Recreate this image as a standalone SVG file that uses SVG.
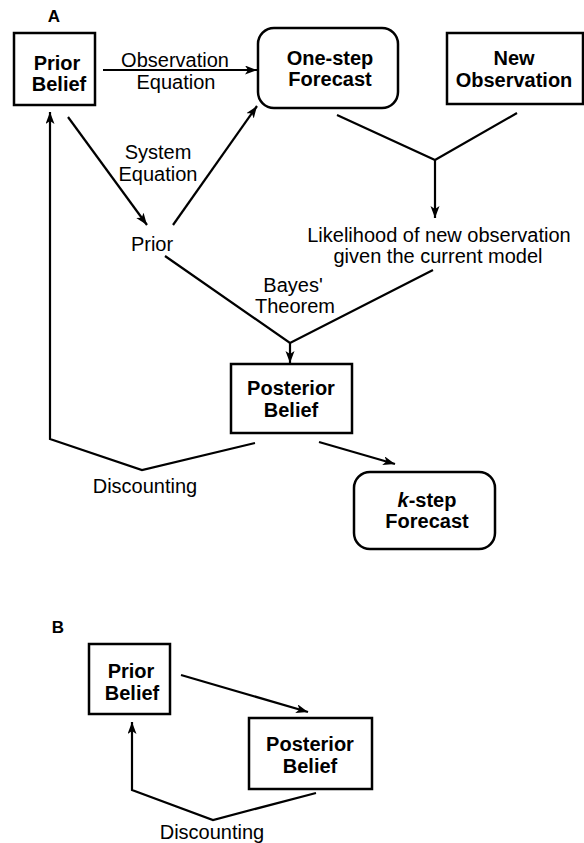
<svg xmlns="http://www.w3.org/2000/svg" width="584" height="843" viewBox="0 0 584 843">
<style>
.box{fill:#fff;stroke:#000;stroke-width:2.5}
.bt{font-family:"Liberation Sans",Arial,sans-serif;font-weight:bold;font-size:20px;text-anchor:middle;fill:#000}
.lt{font-family:"Liberation Sans",Arial,sans-serif;font-size:20px;text-anchor:middle;fill:#000}
.hd{font-family:"Liberation Sans",Arial,sans-serif;font-weight:bold;font-size:17px;text-anchor:middle;fill:#000}
.c{fill:none;stroke:#000;stroke-width:2.2;stroke-linejoin:miter}
</style>
<defs>
<marker id="ah" markerUnits="userSpaceOnUse" markerWidth="14" markerHeight="10" refX="12" refY="4.5" orient="auto">
<path d="M0,0 L12,4.5 L0,9 L3,4.5 z" fill="#000"/>
</marker>
</defs>
<rect width="584" height="843" fill="#fff"/>
<text class="hd" x="54" y="22">A</text>
<text class="hd" x="58" y="633">B</text>

<g id="connectors">
<line class="c" x1="103" y1="70" x2="257" y2="70" marker-end="url(#ah)"/>
<line class="c" x1="68" y1="117" x2="147" y2="225" marker-end="url(#ah)"/>
<line class="c" x1="173" y1="225" x2="257" y2="106" marker-end="url(#ah)"/>
<polyline class="c" points="337,115 435,160 517,113"/>
<line class="c" x1="435" y1="160" x2="435" y2="218" marker-end="url(#ah)"/>
<polyline class="c" points="165,256 290,343 433,270"/>
<line class="c" x1="290" y1="343" x2="290" y2="363" marker-end="url(#ah)"/>
<polyline class="c" points="255,443 142,470 50,439 50,112" marker-end="url(#ah)"/>
<line class="c" x1="319" y1="442" x2="395" y2="464" marker-end="url(#ah)"/>
<line class="c" x1="181" y1="675" x2="308" y2="712" marker-end="url(#ah)"/>
<polyline class="c" points="316,793 213,820 132,790 132,722" marker-end="url(#ah)"/>
</g>

<g id="labels">
<text class="lt" x="175" y="67">Observation</text>
<text class="lt" x="176" y="89">Equation</text>
<text class="lt" x="158" y="159">System</text>
<text class="lt" x="158" y="181">Equation</text>
<text class="lt" x="152" y="251">Prior</text>
<text class="lt" x="439" y="242">Likelihood of new observation</text>
<text class="lt" x="438" y="263">given the current model</text>
<text class="lt" x="293" y="292">Bayes'</text>
<text class="lt" x="295" y="313">Theorem</text>
<text class="lt" x="145" y="493">Discounting</text>
<text class="lt" x="212" y="839">Discounting</text>
</g>

<g id="priorA">
<rect class="box" x="14" y="33" width="81" height="72"/>
<text class="bt" x="57" y="70">Prior</text>
<text class="bt" x="59" y="91">Belief</text>
</g>
<g id="onestep">
<rect class="box" x="258" y="28" width="140" height="80" rx="16"/>
<text class="bt" x="330" y="65">One-step</text>
<text class="bt" x="330" y="86">Forecast</text>
</g>
<g id="newobs">
<rect class="box" x="447" y="33" width="136" height="71"/>
<text class="bt" x="514" y="65">New</text>
<text class="bt" x="514" y="87">Observation</text>
</g>
<g id="posteriorA">
<rect class="box" x="231" y="364" width="121" height="69"/>
<text class="bt" x="291" y="395">Posterior</text>
<text class="bt" x="291" y="417">Belief</text>
</g>
<g id="kstep">
<rect class="box" x="354" y="472" width="141" height="77" rx="16"/>
<text class="bt" x="427" y="507"><tspan font-style="italic">k</tspan>-step</text>
<text class="bt" x="427" y="528">Forecast</text>
</g>
<g id="priorB">
<rect class="box" x="89" y="644" width="81" height="70"/>
<text class="bt" x="131" y="678">Prior</text>
<text class="bt" x="132" y="700">Belief</text>
</g>
<g id="posteriorB">
<rect class="box" x="249" y="718" width="123" height="71"/>
<text class="bt" x="310" y="751">Posterior</text>
<text class="bt" x="310" y="773">Belief</text>
</g>
</svg>
